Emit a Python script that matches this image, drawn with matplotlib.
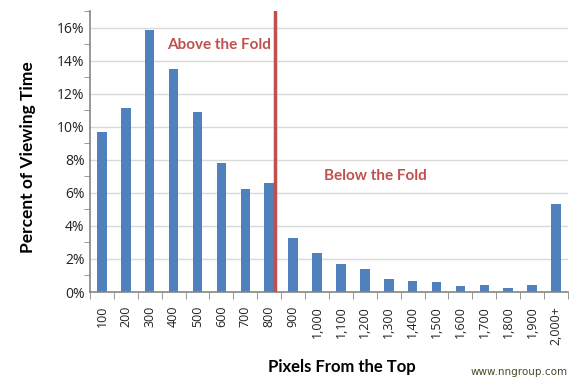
import matplotlib.pyplot as plt
from matplotlib.ticker import MultipleLocator, FuncFormatter

categories = ['100', '200', '300', '400', '500', '600', '700', '800', '900',
              '1,000', '1,100', '1,200', '1,300', '1,400', '1,500', '1,600',
              '1,700', '1,800', '1,900', '2,000+']
viewing_time = [9.65, 11.15, 15.88, 13.5, 10.9, 7.82, 6.24, 6.6, 3.27, 2.36,
                1.7, 1.39, 0.79, 0.67, 0.61, 0.36, 0.42, 0.24, 0.42, 5.33]
fold_position = 7.25  # just past the 800 px bar

bar_color = '#4F81BD'
fold_color = '#C0504D'
axis_color = '#868686'


def main():
    fig = plt.figure(figsize=(5.88, 3.86), dpi=100)
    ax = fig.add_axes([0.153, 0.2435, 0.813, 0.728])

    x = range(len(categories))
    ax.bar(x, viewing_time, 0.4, color=bar_color, zorder=2)

    ax.set_xlim(-0.5, len(categories) - 0.5)
    ax.set_ylim(0, 17)

    # fold line
    ax.axvline(fold_position, color=fold_color, lw=2.5, zorder=3)
    ax.text(2.72, 14.97, 'Above the Fold', color=fold_color, fontsize=11,
            fontweight='bold', family='Lato', va='center', ha='left')
    ax.text(9.29, 7.03, 'Below the Fold', color=fold_color, fontsize=11,
            fontweight='bold', family='Lato', va='center', ha='left')

    # y axis
    ax.yaxis.set_major_locator(MultipleLocator(2))
    ax.yaxis.set_minor_locator(MultipleLocator(1))
    ax.yaxis.set_major_formatter(FuncFormatter(lambda v, p: '%d%%' % v))
    ax.grid(axis='y', which='major', color='#D9D9D9', lw=1, zorder=0)
    ax.tick_params(axis='y', which='both', direction='out', length=4,
                   color=axis_color, labelsize=10)
    ax.tick_params(axis='y', which='major', length=0, pad=4)

    # x axis: ticks between categories, labels at centres
    ax.set_xticks(x)
    ax.set_xticklabels(categories, rotation=90, fontsize=9)
    ax.set_xticks([i - 0.5 for i in range(len(categories) + 1)], minor=True)
    ax.tick_params(axis='x', which='major', length=0, pad=10)
    ax.tick_params(axis='x', which='minor', direction='out', length=5,
                   color=axis_color)

    for side in ['top', 'right']:
        ax.spines[side].set_visible(False)
    for side in ['left', 'bottom']:
        ax.spines[side].set_color(axis_color)
        ax.spines[side].set_linewidth(1.2)

    for lbl in ax.get_xticklabels() + ax.get_yticklabels():
        lbl.set_family('Open Sans')
        lbl.set_color('#222222')

    fig.text(0.047, 0.593, 'Percent of Viewing Time', rotation=90,
             fontsize=12.5, fontweight='bold', family='Lato',
             ha='center', va='center')
    fig.text(0.582, 0.049, 'Pixels From the Top', fontsize=12,
             fontweight='bold', family='Lato', ha='center', va='center')
    fig.text(0.966, 0.036, 'www.nngroup.com', fontsize=7.5, color='#4A4A2A',
             family='DejaVu Sans', ha='right', va='center')

    fig.savefig('out.png', dpi=100)


if __name__ == "__main__":
    main()
